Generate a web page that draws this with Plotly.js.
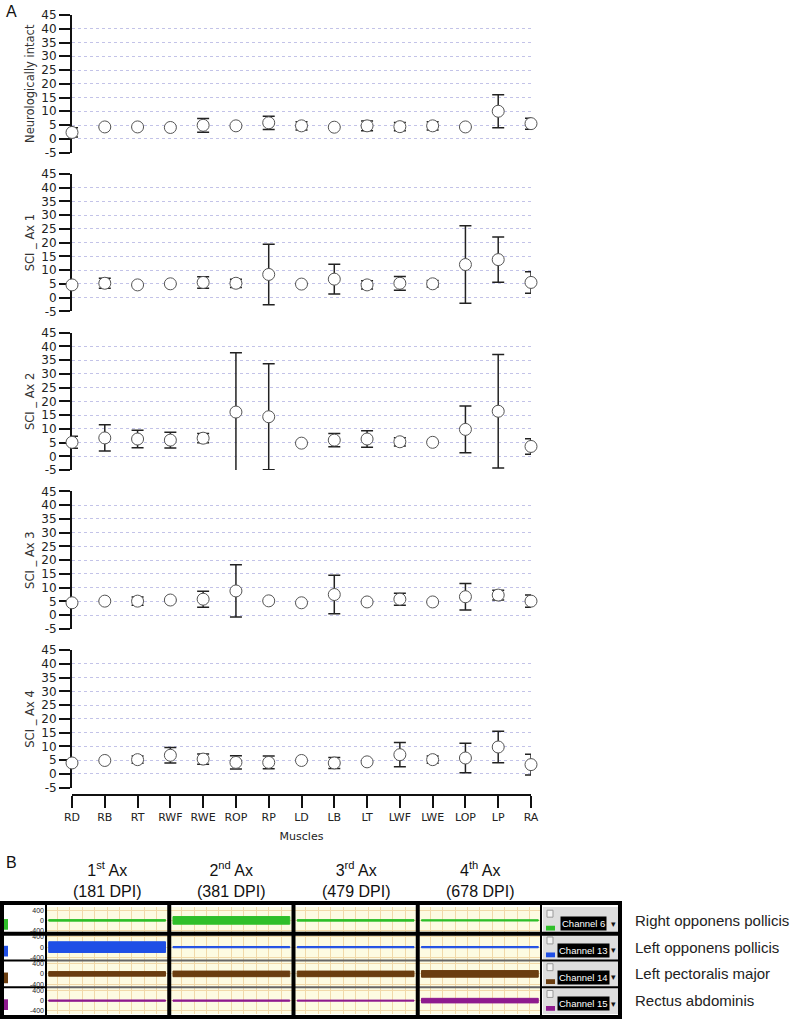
<!DOCTYPE html>
<html>
<head>
<meta charset="utf-8">
<script src="https://cdn.plot.ly/plotly-3.0.1.min.js"></script>
<style>
  html, body { margin: 0; padding: 0; background: #fff; }
  #chart { width: 800px; height: 1025px; }
</style>
</head>
<body>
<div id="chart"></div>
<script>
// ---------- panel A : mean ± error per muscle ----------
const muscles = ['RD','RB','RT','RWF','RWE','ROP','RP','LD','LB','LT','LWF','LWE','LOP','LP','RA'];
const groupNames = ['Neurologically intact','SCI _ Ax 1','SCI _ Ax 2','SCI _ Ax 3','SCI _ Ax 4'];

const intactMean = [2.3, 4.3, 4.3, 4.1, 4.9, 4.7, 5.8, 4.7, 4.2, 4.7, 4.4, 4.7, 4.3, 10.0, 5.5];
const intactErr  = [1.7, 0, 0, 0, 2.5, 0, 2.4, 1.5, 0, 1.8, 1.5, 1.5, 0, 6.0, 2.0];

const ax1Mean = [4.6, 5.2, 4.6, 5.0, 5.5, 5.2, 8.4, 4.9, 6.7, 4.6, 5.2, 5.0, 12.0, 13.8, 5.5];
const ax1Err  = [0, 1.8, 0, 0, 2.1, 1.5, 11.0, 0, 5.4, 1.5, 2.5, 1.2, 14.1, 8.2, 3.9];

const ax2Mean = [5.1, 6.7, 6.3, 5.9, 6.6, 16.1, 14.4, 4.8, 5.9, 6.3, 5.3, 5.1, 9.8, 16.4, 3.6];
const ax2Err  = [2.2, 4.8, 3.2, 2.9, 1.7, 21.6, 19.3, 0, 2.4, 3.0, 1.5, 0, 8.5, 20.6, 2.8];

const ax3Mean = [4.5, 5.1, 5.1, 5.5, 5.8, 8.8, 5.2, 4.5, 7.5, 4.8, 5.8, 4.8, 6.7, 7.3, 5.1];
const ax3Err  = [0, 0, 1.5, 0, 2.9, 9.5, 0, 0, 7.0, 0, 2.2, 0, 4.8, 1.8, 2.2];

const ax4Mean = [4.0, 4.9, 5.2, 6.8, 5.4, 4.2, 4.2, 4.9, 4.0, 4.4, 7.0, 5.2, 5.8, 9.8, 3.4];
const ax4Err  = [0, 0, 1.3, 2.8, 1.9, 2.4, 2.3, 0, 2.0, 0, 4.4, 1.3, 5.4, 5.7, 3.8];

const yTicks = [-5, 0, 5, 10, 15, 20, 25, 30, 35, 40, 45];

// ---------- panel B : EMG recordings ----------
const axOrdinal = ['1', '2', '3', '4'];
const axSuffix = ['st', 'nd', 'rd', 'th'];
const axDpi = [181, 381, 479, 678];
const channelNames = ['Channel 6', 'Channel 13', 'Channel 14', 'Channel 15'];
const channelMuscles = ['Right opponens pollicis', 'Left opponens pollicis', 'Left pectoralis major', 'Rectus abdominis'];
const channelColors = ['#2fbf2a', '#1f4fe6', '#6a3d10', '#8e1b8e'];
// approximate envelope amplitude (µV) per channel, for Ax 1..4
const ch6Amp  = [30, 150, 30, 25];
const ch13Amp = [210, 25, 25, 25];
const ch14Amp = [90, 110, 110, 130];
const ch15Amp = [25, 25, 20, 90];
const channelAmps = [ch6Amp, ch13Amp, ch14Amp, ch15Amp];
const emgTickVals = [400, 0, -400];

// ---------- helpers ----------
const W = 800, H = 1025;
const px = v => v / W;
const py = v => 1 - v / H;
const FONT_A = 'DejaVu Sans, sans-serif';
const FONT_B = 'Liberation Sans, Arial, sans-serif';
const UV_PER_ROW = 1050;
const rowCenter = r => 3.5 - r;

const means = [intactMean, ax1Mean, ax2Mean, ax3Mean, ax4Mean];
const errs = [intactErr, ax1Err, ax2Err, ax3Err, ax4Err];

const traces = [];
const layout = {
    width: W, height: H,
    margin: { l: 0, r: 0, t: 0, b: 0 },
    paper_bgcolor: '#fff',
    plot_bgcolor: 'rgba(0,0,0,0)',
    showlegend: false,
    hovermode: false,
    font: { family: FONT_A, color: '#222' },
    shapes: [],
    annotations: []
};

// bottom muscle axis, shared by the five rows
layout.xaxis = {
    domain: [px(72), px(531)],
    range: [0, 14],
    anchor: 'free',
    position: py(795),
    tickvals: muscles.map((m, i) => i),
    ticktext: muscles,
    tickfont: { size: 11, family: FONT_A, color: '#222' },
    showline: true, linecolor: '#111', linewidth: 2,
    ticks: 'outside', ticklen: 12, tickwidth: 2, tickcolor: '#111',
    showgrid: false, zeroline: false,
    title: { text: 'Muscles', font: { size: 11, family: FONT_A, color: '#222' }, standoff: 8 }
};

groupNames.forEach((name, g) => {
    const top = 15 + g * 158.8;
    const bottom = top + 137.5;
    const yName = g === 0 ? 'yaxis' : 'yaxis' + (g + 1);
    layout[yName] = {
        domain: [py(bottom), py(top)],
        range: [-5, 45],
        anchor: 'x',
        tickvals: yTicks,
        ticktext: yTicks.map(String),
        tickfont: { size: 12, family: FONT_A, color: '#222' },
        showline: true, linecolor: '#111', linewidth: 2,
        ticks: 'outside', ticklen: 11, tickwidth: 2, tickcolor: '#111',
        showgrid: true, gridcolor: '#c3c3e8', griddash: 'dot', gridwidth: 1,
        zeroline: false,
        layer: 'below traces',
        title: { text: name, font: { size: 11.5, family: FONT_A, color: '#333' }, standoff: 4 }
    };
    traces.push({
        type: 'scatter', mode: 'markers',
        x: muscles.map((m, i) => i),
        y: means[g],
        xaxis: 'x', yaxis: g === 0 ? 'y' : 'y' + (g + 1),
        cliponaxis: false,
        marker: { size: 12, color: '#fff', line: { color: '#555', width: 1 } },
        error_y: { type: 'data', array: errs[g], visible: true, color: '#222', thickness: 1.5, width: 6 },
        hoverinfo: 'skip'
    });
});

// ----- panel B axes -----
layout.xaxis2 = {
    domain: [px(45), px(542)],
    range: [0, 4],
    anchor: 'y6',
    showgrid: true, gridcolor: '#f1d9a9', gridwidth: 1,
    tick0: 0, dtick: 0.1,
    showticklabels: false, ticks: '', zeroline: false, showline: false
};
const bTickVals = [], bTickText = [];
channelNames.forEach((c, r) => {
    emgTickVals.forEach(v => {
        bTickVals.push(rowCenter(r) + v / UV_PER_ROW);
        bTickText.push(String(v));
    });
});
layout.yaxis6 = {
    domain: [py(1014), py(907)],
    range: [0, 4],
    anchor: 'x2',
    tickvals: bTickVals, ticktext: bTickText,
    tickfont: { size: 7, family: FONT_B, color: '#222' },
    ticks: '', showgrid: true, gridcolor: '#f1d9a9', gridwidth: 1,
    zeroline: false, showline: false
};

// yellow recording background
layout.shapes.push({
    type: 'rect', xref: 'x2 domain', yref: 'y6 domain', x0: 0, x1: 1, y0: 0, y1: 1,
    fillcolor: '#fdfbe2', line: { width: 0 }, layer: 'below'
});

// signal envelopes
channelAmps.forEach((amps, r) => {
    amps.forEach((a, c) => {
        const h = a / UV_PER_ROW;
        const yc = rowCenter(r);
        traces.push({
            type: 'scatter', mode: 'lines',
            x: [c + 0.03, c + 0.97, c + 0.97, c + 0.03, c + 0.03],
            y: [yc + h, yc + h, yc - h, yc - h, yc + h],
            xaxis: 'x2', yaxis: 'y6',
            fill: 'toself', fillcolor: channelColors[r],
            line: { color: channelColors[r], width: 1 },
            hoverinfo: 'skip'
        });
    });
});

// channel control boxes on the right
channelNames.forEach((c, r) => {
    const yc = rowCenter(r);
    layout.shapes.push({
        type: 'rect', xref: 'paper', yref: 'y6',
        x0: px(543), x1: px(619), y0: yc - 0.5, y1: yc + 0.5,
        fillcolor: '#dedede', line: { width: 0 }, layer: 'above'
    });
    layout.shapes.push({
        type: 'rect', xref: 'paper', yref: 'y6',
        x0: px(546), x1: px(555), y0: yc - 0.38, y1: yc - 0.2,
        fillcolor: channelColors[r], line: { width: 0 }, layer: 'above'
    });
    layout.shapes.push({
        type: 'rect', xref: 'paper', yref: 'y6',
        x0: px(547), x1: px(553), y0: yc + 0.12, y1: yc + 0.38,
        fillcolor: '#f4f4f4', line: { color: '#999', width: 1 }, layer: 'above'
    });
    layout.shapes.push({
        type: 'rect', xref: 'paper', yref: 'y6',
        x0: px(4), x1: px(8), y0: yc - 0.35, y1: yc + 0.05,
        fillcolor: channelColors[r], line: { width: 0 }, layer: 'above'
    });
    layout.annotations.push({
        xref: 'paper', yref: 'y6', x: px(583), y: yc - 0.12,
        xanchor: 'center', yanchor: 'middle',
        text: c, showarrow: false,
        font: { size: 9.5, family: FONT_B, color: '#fff' },
        bgcolor: '#000', borderpad: 1
    });
    layout.annotations.push({
        xref: 'paper', yref: 'y6', x: px(613), y: yc - 0.12,
        xanchor: 'center', yanchor: 'middle',
        text: '▾', showarrow: false,
        font: { size: 9, family: FONT_B, color: '#111' }
    });
    layout.annotations.push({
        xref: 'paper', yref: 'y6', x: px(633), y: yc,
        xanchor: 'left', yanchor: 'middle', text: channelMuscles[r], showarrow: false,
        font: { size: 15, family: FONT_B, color: '#222' }
    });
});

// row separators
layout.shapes.push({
    type: 'line', xref: 'paper', yref: 'y6', x0: px(2), x1: px(620), y0: 3, y1: 3,
    line: { color: '#000', width: 4 }, layer: 'above'
});
[2, 1].forEach(yv => {
    layout.shapes.push({
        type: 'line', xref: 'x2', yref: 'y6', x0: 0, x1: 4, y0: yv, y1: yv,
        line: { color: '#666', width: 2 }, layer: 'above'
    });
    layout.shapes.push({
        type: 'line', xref: 'paper', yref: 'y6', x0: px(2), x1: px(45), y0: yv, y1: yv,
        line: { color: '#000', width: 2 }, layer: 'above'
    });
    layout.shapes.push({
        type: 'line', xref: 'paper', yref: 'y6', x0: px(542), x1: px(620), y0: yv, y1: yv,
        line: { color: '#000', width: 2 }, layer: 'above'
    });
});

// column separators
[0, 1, 2, 3, 4].forEach(c => {
    layout.shapes.push({
        type: 'line', xref: 'x2', yref: 'paper', x0: c, x1: c, y0: py(903), y1: py(1017),
        line: { color: '#000', width: 4 }, layer: 'above'
    });
});

// outer frame
layout.shapes.push({
    type: 'rect', xref: 'paper', yref: 'paper',
    x0: px(2), x1: px(620), y0: py(1017), y1: py(903),
    line: { color: '#000', width: 4 }, fillcolor: 'rgba(0,0,0,0)', layer: 'above'
});

// Ax headers
axOrdinal.forEach((o, c) => {
    layout.annotations.push({
        xref: 'x2', yref: 'paper', x: c + 0.5, y: py(879),
        xanchor: 'center', yanchor: 'middle',
        text: `${o}<sup>${axSuffix[c]}</sup> Ax<br>(${axDpi[c]} DPI)`,
        showarrow: false,
        font: { size: 16, family: FONT_B, color: '#111' }
    });
});

// panel letters
layout.annotations.push({
    xref: 'paper', yref: 'paper', x: px(4), y: py(11), xanchor: 'left', yanchor: 'middle',
    text: 'A', showarrow: false, font: { size: 16, family: FONT_B, color: '#111' }
});
layout.annotations.push({
    xref: 'paper', yref: 'paper', x: px(4), y: py(862), xanchor: 'left', yanchor: 'middle',
    text: 'B', showarrow: false, font: { size: 16, family: FONT_B, color: '#111' }
});

Plotly.newPlot('chart', traces, layout, { displayModeBar: false, staticPlot: true });
</script>
</body>
</html>
